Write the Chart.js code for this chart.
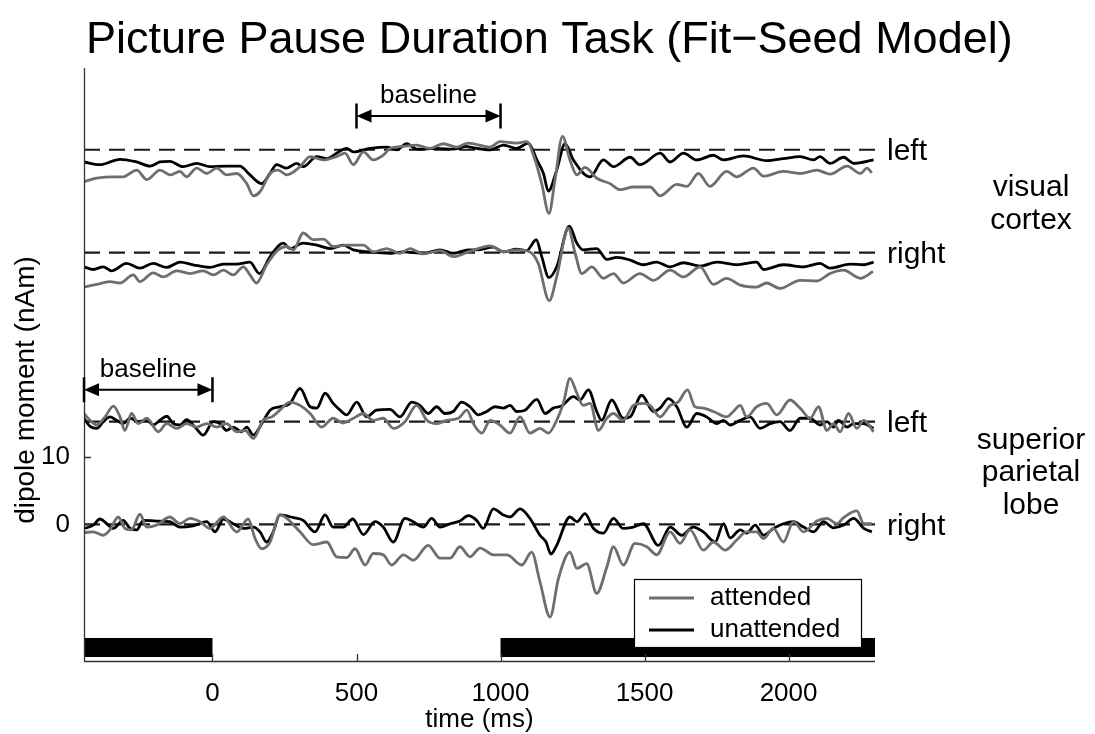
<!DOCTYPE html>
<html>
<head>
<meta charset="utf-8">
<script src="https://cdn.jsdelivr.net/npm/chart.js@4.4.1/dist/chart.umd.min.js"></script>
<style>
html,body{margin:0;padding:0;background:#ffffff;}
canvas{display:block;}
</style>
</head>
<body>
<canvas id="c" width="1095" height="734"></canvas>
<script>
const FONT = "'Liberation Sans', Arial, Helvetica, sans-serif";

// ---- text ----
const chartTitle = 'Picture Pause Duration Task (Fit\u2212Seed Model)';
const xAxisLabel = 'time (ms)';
const yAxisLabel = 'dipole moment (nAm)';
const seriesNames = ['attended', 'unattended'];
const traceNames = ['left', 'right', 'left', 'right'];
const regionNames = [['visual', 'cortex'], ['superior', 'parietal', 'lobe']];
const windowLabel = 'baseline';

// ---- axes ----
const xTickValues = [0, 500, 1000, 1500, 2000];
const yTickValues = [0, 10];
const xRange = [-446, 2300];
const yRange = [-20.2, 67.5];

// ---- reference levels / annotations ----
const baselineLevels = [55.4, 40.2, 15.2, 0];
const windowStart = [500, -446];
const windowEnd = [1000, 0];
const windowLevel = [60.4, 19.9];
const stimStart = [-446, 1000];
const stimEnd = [0, 2300];

// ---- visual cortex, left ----
const visLeftAttT = [-446,-402,-344,-310,-263,-228,-182,-148,-113,-90,-55,-20,15,49,84,119,142,165,200,228,258,304,339,385,431,460,489,524,558,593,616,663,709,755,801,848,888,964,998,1056,1091,1120,1143,1168,1189,1215,1241,1265,1293,1334,1380,1415,1461,1519,1554,1612,1647,1687,1727,1785,1820,1878,1913,1982,2040,2098,2144,2203,2249,2272,2289];
const visLeftAttV = [50.7,51.2,51.4,51.4,52.4,51.0,52.4,51.7,52.2,51.4,52.7,51.9,52.7,51.7,51.9,50.4,48.6,49.2,51.9,52.4,51.7,52.9,54.4,53.9,54.4,54.9,53.2,55.1,53.9,54.6,55.6,55.9,56.1,55.6,56.3,55.8,56.4,55.8,56.6,56.4,56.6,53.9,50.4,46.0,50.9,57.4,53.9,51.7,52.8,51.2,50.4,49.5,49.9,49.9,48.6,50.3,50.0,51.9,50.0,52.2,51.4,52.7,51.5,52.2,51.9,52.4,51.8,53.0,51.9,52.7,52.0];
const visLeftUnaT = [-446,-391,-321,-263,-217,-182,-148,-102,-55,-9,49,95,130,171,200,223,258,292,315,362,397,431,466,489,547,605,640,674,709,778,836,883,894,964,1010,1056,1097,1126,1149,1166,1195,1224,1253,1311,1357,1392,1450,1484,1554,1589,1635,1681,1739,1774,1843,1924,1982,2040,2087,2109,2144,2191,2226,2295];
const visLeftUnaV = [53.6,53.2,54.0,53.6,53.0,53.6,53.7,52.9,53.4,52.9,53.0,53.0,51.7,50.4,51.9,53.2,52.7,53.4,52.9,54.4,54.1,54.9,55.6,55.1,55.6,55.8,55.4,56.3,55.5,55.6,55.5,55.9,55.8,55.4,56.1,55.6,56.4,53.9,51.9,49.3,52.4,56.3,53.9,51.4,53.9,52.9,54.3,53.2,54.9,53.6,54.9,53.9,54.6,53.9,54.5,53.8,54.1,54.4,53.9,54.4,53.4,54.3,53.4,53.9];

// ---- visual cortex, right ----
const visRightAttT = [-446,-402,-356,-321,-275,-252,-206,-171,-124,-78,-32,3,38,72,107,130,153,188,228,258,281,315,350,385,419,466,524,558,605,651,686,732,790,836,888,964,1010,1056,1102,1131,1169,1195,1235,1259,1282,1317,1357,1392,1426,1484,1531,1589,1635,1693,1739,1785,1832,1889,1924,1970,2040,2098,2144,2191,2249,2293];
const visRightAttV = [35.1,35.5,35.9,35.7,36.9,35.9,37.2,36.6,37.5,37.1,37.5,36.9,37.6,36.9,38.1,36.9,35.7,38.4,40.6,41.1,40.6,43.1,42.1,42.2,41.1,41.3,41.3,40.3,40.8,40.1,40.8,40.0,40.5,39.6,40.3,41.2,40.3,40.6,40.3,38.6,33.1,36.6,43.8,40.1,37.1,38.1,36.4,37.1,35.7,37.1,36.1,37.6,36.6,38.1,35.5,36.4,35.4,35.1,35.7,34.9,36.1,36.0,37.1,37.6,36.4,37.4];
const visRightUnaT = [-446,-414,-379,-350,-298,-252,-206,-159,-113,-67,-9,38,84,130,163,200,246,269,315,362,408,454,489,547,616,663,732,790,836,888,917,975,1010,1056,1091,1124,1143,1168,1195,1239,1265,1287,1334,1369,1404,1450,1496,1542,1589,1635,1693,1751,1820,1889,1913,1982,2052,2109,2144,2214,2261,2295];
const visRightUnaV = [38.1,37.7,38.1,37.5,38.6,37.9,38.6,38.0,38.8,38.4,38.0,38.5,38.5,38.8,37.1,39.6,41.6,40.8,41.6,41.3,40.8,41.3,40.6,40.3,40.1,40.3,40.1,40.6,40.1,40.6,40.6,41.0,40.3,40.7,40.5,42.1,39.6,36.5,38.1,44.1,41.6,40.6,40.8,39.2,39.5,39.1,38.4,38.8,38.1,38.7,38.2,38.8,38.4,38.8,37.7,38.4,38.1,38.6,37.9,38.5,38.4,38.8];

// ---- superior parietal lobe, left ----
const parLeftAttT = [-446,-425,-402,-373,-344,-321,-304,-281,-257,-228,-188,-159,-124,-90,-55,-20,15,49,84,113,142,176,206,234,269,304,339,379,419,454,489,524,558,593,628,668,709,744,778,813,854,883,906,935,964,998,1033,1068,1102,1137,1166,1195,1218,1241,1265,1287,1311,1340,1369,1392,1426,1461,1496,1519,1554,1589,1617,1649,1675,1704,1739,1785,1808,1832,1855,1889,1924,1959,2005,2040,2075,2104,2133,2156,2179,2208,2237,2261,2295];
const parLeftAttV = [16.4,15.4,14.7,15.9,17.5,15.9,13.9,16.4,14.9,15.7,13.7,14.9,14.2,14.9,14.4,14.9,14.4,14.9,13.7,13.9,12.7,15.4,15.9,16.9,18.1,17.6,16.4,14.4,15.7,15.0,15.7,16.4,15.4,15.7,14.2,15.2,17.6,15.4,14.9,15.4,15.7,16.9,14.9,13.5,15.4,14.7,13.5,15.9,13.5,14.2,13.5,15.4,17.9,21.6,19.4,17.6,17.9,13.9,15.7,16.4,15.4,17.6,17.9,17.6,15.9,17.6,18.1,19.9,17.4,17.2,16.7,15.9,16.7,17.6,15.9,17.4,17.9,16.2,18.4,17.2,15.7,17.4,13.9,14.9,13.7,16.4,14.2,15.4,13.7];
const parLeftUnaT = [-446,-425,-402,-379,-356,-333,-310,-286,-257,-228,-206,-182,-159,-136,-113,-90,-61,-32,3,26,49,72,101,119,142,171,200,234,269,304,339,362,391,419,443,466,501,535,570,616,651,692,720,749,778,807,836,865,894,923,952,981,1010,1033,1056,1085,1126,1155,1183,1212,1253,1276,1305,1334,1351,1386,1426,1450,1490,1531,1554,1583,1612,1647,1681,1716,1751,1774,1797,1832,1866,1901,1936,1970,2005,2040,2075,2109,2133,2156,2173,2203,2226,2261,2295];
const parLeftUnaV = [15.7,14.5,14.2,15.2,15.9,15.4,14.9,15.7,15.2,15.4,14.7,15.4,16.0,14.9,14.7,15.5,14.4,13.2,15.2,14.9,13.9,14.4,13.7,14.4,13.2,14.9,16.9,17.4,17.9,20.1,17.4,17.2,19.4,17.9,16.9,16.2,18.1,15.9,16.9,17.0,15.9,18.1,17.6,16.4,17.4,16.4,16.7,18.1,17.4,16.2,16.7,17.4,17.2,17.6,16.7,16.9,18.5,16.4,17.2,17.5,18.9,18.4,19.9,16.7,15.4,18.4,15.7,15.9,19.1,16.7,17.2,18.6,17.4,14.4,16.4,15.9,14.9,15.4,14.7,15.4,15.9,14.2,14.9,15.2,13.9,15.7,15.7,14.7,15.2,14.4,15.4,14.4,14.9,14.9,14.2];

// ---- superior parietal lobe, right ----
const parRightAttT = [-443,-414,-379,-356,-327,-304,-281,-252,-228,-194,-148,-113,-78,-43,-9,38,84,124,148,171,200,234,258,304,350,397,431,466,495,530,558,593,622,663,697,749,790,825,859,894,929,975,1022,1074,1108,1137,1172,1201,1241,1265,1299,1334,1369,1392,1426,1467,1508,1542,1589,1623,1658,1704,1739,1780,1820,1855,1889,1913,1947,1982,2017,2052,2098,2133,2168,2191,2237,2261,2289];
const parRightAttV = [-1.2,-1.1,-1.6,-0.8,1.1,-0.6,-0.8,1.5,-0.4,-0.1,1.1,0.1,0.9,0.4,-0.6,1.1,-1.1,0.8,-2.1,-3.6,-2.6,1.4,0.9,-1.1,-3.0,-2.6,-4.8,-4.9,-3.6,-6.0,-4.3,-4.5,-6.0,-4.5,-5.3,-3.1,-5.0,-5.0,-3.3,-4.8,-3.5,-4.5,-4.5,-6.0,-4.1,-8.5,-13.7,-8.0,-4.1,-6.5,-5.8,-10.2,-6.3,-3.3,-6.0,-2.8,-3.3,-4.5,-1.1,-2.8,-0.8,-3.8,-2.6,-3.8,-2.3,-1.1,-1.1,-2.1,-0.6,-2.6,0.4,-1.1,0.5,0.9,0.1,1.0,2.0,0.1,0.1];
const parRightUnaT = [-443,-414,-391,-367,-344,-310,-286,-263,-240,-194,-148,-113,-67,-20,9,38,72,107,142,165,188,211,234,281,315,356,391,419,454,487,524,564,593,628,668,697,732,761,790,825,859,888,917,940,975,1010,1033,1068,1102,1137,1158,1175,1195,1241,1265,1293,1323,1357,1392,1426,1461,1496,1548,1589,1629,1669,1704,1745,1774,1797,1832,1855,1884,1913,1947,1982,2017,2052,2087,2121,2156,2191,2226,2261,2289];
const parRightUnaV = [-0.6,-0.1,0.8,0.1,-0.6,0.6,-0.6,-0.8,0.6,0.5,0.4,-0.4,-0.2,0.4,-1.1,0.8,0.1,-0.6,-0.4,-1.1,-2.6,-1.1,1.4,1.0,0.6,-1.1,1.4,-0.4,-0.4,0.8,-1.5,0.4,-0.4,-2.6,0.9,0.4,-0.4,0.9,-0.4,0.1,0.5,1.3,0.6,-0.6,2.3,1.4,1.1,2.3,0.9,-1.6,-2.6,-4.4,-3.1,1.1,0.4,1.6,-0.6,-1.3,0.9,-0.6,-0.4,0.1,-3.1,-0.4,-1.6,-0.4,-1.1,-2.6,0.1,-2.0,-0.8,-1.3,-0.1,-1.6,-0.6,0.1,0.4,-0.4,-1.1,0.4,-0.5,-0.1,0.9,-0.6,-1.1];

// ---- styles ----
const ATT_COLOR = '#6e6e6e';
const UNA_COLOR = '#000000';
const AXIS_COLOR = '#333333';

function pts(t, v) { return t.map((x, i) => ({ x: x, y: v[i] })); }

const attended = [[visLeftAttT, visLeftAttV], [visRightAttT, visRightAttV], [parLeftAttT, parLeftAttV], [parRightAttT, parRightAttV]];
const unattended = [[visLeftUnaT, visLeftUnaV], [visRightUnaT, visRightUnaV], [parLeftUnaT, parLeftUnaV], [parRightUnaT, parRightUnaV]];

const datasets = [];
attended.forEach(s => datasets.push({
  label: seriesNames[0], data: pts(s[0], s[1]), borderColor: ATT_COLOR, borderWidth: 2.8,
  pointRadius: 0, cubicInterpolationMode: 'monotone', order: 1, fill: false
}));
unattended.forEach(s => datasets.push({
  label: seriesNames[1], data: pts(s[0], s[1]), borderColor: UNA_COLOR, borderWidth: 2.8,
  pointRadius: 0, cubicInterpolationMode: 'monotone', order: 2, fill: false
}));
baselineLevels.forEach(l => datasets.push({
  label: 'baseline level', data: [{ x: xRange[0], y: l }, { x: xRange[1], y: l }],
  borderColor: '#1a1a1a', borderWidth: 2.1, borderDash: [16, 9], pointRadius: 0, order: 3, fill: false
}));

function txt(ctx, s, x, y, size, align, base) {
  ctx.font = size + 'px ' + FONT;
  ctx.textAlign = align || 'left';
  ctx.textBaseline = base || 'middle';
  ctx.fillStyle = '#000';
  ctx.fillText(s, x, y);
}

const decor = {
  id: 'decor',
  beforeDatasetsDraw(chart) {
    const { ctx, chartArea: a, scales: { x } } = chart;
    ctx.save();
    ctx.fillStyle = '#000';
    for (let i = 0; i < stimStart.length; i++) {
      const x0 = x.getPixelForValue(stimStart[i]);
      const x1 = x.getPixelForValue(stimEnd[i]);
      ctx.fillRect(x0, a.bottom - 23, x1 - x0, 19);
    }
    ctx.restore();
  },
  afterDatasetsDraw(chart) {
    const { ctx, chartArea: a, scales: { x, y } } = chart;
    ctx.save();
    // axes
    ctx.strokeStyle = AXIS_COLOR;
    ctx.lineWidth = 1.3;
    ctx.beginPath();
    ctx.moveTo(a.left + 0.5, a.top);
    ctx.lineTo(a.left + 0.5, a.bottom + 0.5);
    ctx.lineTo(a.right, a.bottom + 0.5);
    ctx.stroke();
    // inward ticks
    ctx.beginPath();
    xTickValues.forEach(v => { const p = Math.round(x.getPixelForValue(v)) + 0.5; ctx.moveTo(p, a.bottom); ctx.lineTo(p, a.bottom - 7); });
    yTickValues.forEach(v => { const p = Math.round(y.getPixelForValue(v)) + 0.5; ctx.moveTo(a.left, p); ctx.lineTo(a.left + 7, p); });
    ctx.stroke();

    // baseline window annotations
    ctx.strokeStyle = '#000';
    ctx.fillStyle = '#000';
    for (let i = 0; i < windowStart.length; i++) {
      const xs = x.getPixelForValue(windowStart[i]);
      const xe = x.getPixelForValue(windowEnd[i]);
      const yy = y.getPixelForValue(windowLevel[i]);
      ctx.lineWidth = 2;
      ctx.beginPath();
      ctx.moveTo(xs + 10, yy); ctx.lineTo(xe - 10, yy);
      ctx.stroke();
      ctx.lineWidth = 2.5;
      ctx.beginPath();
      ctx.moveTo(xs, yy - 12.5); ctx.lineTo(xs, yy + 12.5);
      ctx.moveTo(xe, yy - 12.5); ctx.lineTo(xe, yy + 12.5);
      ctx.stroke();
      ctx.beginPath();
      ctx.moveTo(xs, yy); ctx.lineTo(xs + 15, yy - 6.5); ctx.lineTo(xs + 15, yy + 6.5); ctx.closePath();
      ctx.moveTo(xe, yy); ctx.lineTo(xe - 15, yy - 6.5); ctx.lineTo(xe - 15, yy + 6.5); ctx.closePath();
      ctx.fill();
      txt(ctx, windowLabel, (xs + xe) / 2, yy - 20, 26, 'center', 'middle');
    }

    // trace labels on the right
    baselineLevels.forEach((l, i) => txt(ctx, traceNames[i], a.right + 12, y.getPixelForValue(l) + 2, 30, 'left', 'middle'));
    // region labels
    regionNames.forEach((lines, g) => {
      const cy = (y.getPixelForValue(baselineLevels[2 * g]) + y.getPixelForValue(baselineLevels[2 * g + 1])) / 2 + (g === 0 ? 3 : 0);
      const n = lines.length;
      lines.forEach((s, k) => txt(ctx, s, a.right + 156, cy + (k - (n - 1) / 2) * 32.5, 30, 'center', 'middle'));
    });

    // legend
    const lw = 227, lh = 68;
    const lx = a.right - 14 - lw, ly = a.bottom - 14 - lh;
    ctx.fillStyle = '#fff';
    ctx.fillRect(lx, ly, lw, lh);
    ctx.strokeStyle = '#000';
    ctx.lineWidth = 1.2;
    ctx.strokeRect(lx + 0.5, ly + 0.5, lw, lh);
    [ATT_COLOR, UNA_COLOR].forEach((c, k) => {
      const yy = ly + 19 + k * 32;
      ctx.strokeStyle = c;
      ctx.lineWidth = 2.8;
      ctx.beginPath(); ctx.moveTo(lx + 15, yy); ctx.lineTo(lx + 60, yy); ctx.stroke();
      txt(ctx, seriesNames[k], lx + 76, yy, 26, 'left', 'middle');
    });

    // titles
    txt(ctx, chartTitle, 86, 53, 45, 'left', 'alphabetic');
    txt(ctx, xAxisLabel, (a.left + a.right) / 2, 720, 26, 'center', 'middle');
    ctx.save();
    ctx.translate(26, 390);
    ctx.rotate(-Math.PI / 2);
    txt(ctx, yAxisLabel, 0, 0, 28, 'center', 'middle');
    ctx.restore();
    ctx.restore();
  }
};

new Chart(document.getElementById('c'), {
  type: 'line',
  data: { datasets: datasets },
  options: {
    responsive: false,
    animation: false,
    devicePixelRatio: 1,
    layout: { padding: { top: 68, right: 220, bottom: 0, left: 0 } },
    plugins: { legend: { display: false }, tooltip: { enabled: false }, title: { display: false } },
    elements: { point: { radius: 0 } },
    scales: {
      x: {
        type: 'linear', min: xRange[0], max: xRange[1],
        grid: { display: false }, border: { display: false },
        afterBuildTicks: s => { s.ticks = xTickValues.map(v => ({ value: v })); },
        afterFit: s => { s.height = 73; },
        ticks: { font: { family: FONT, size: 26 }, color: '#000', padding: 9, maxRotation: 0, autoSkip: false, callback: v => String(v) }
      },
      y: {
        type: 'linear', min: yRange[0], max: yRange[1],
        grid: { display: false }, border: { display: false },
        afterBuildTicks: s => { s.ticks = yTickValues.map(v => ({ value: v })); },
        afterFit: s => { s.width = 84; },
        ticks: { font: { family: FONT, size: 26 }, color: '#000', padding: 6, autoSkip: false, callback: v => String(v) }
      }
    }
  },
  plugins: [decor]
});
</script>
</body>
</html>
